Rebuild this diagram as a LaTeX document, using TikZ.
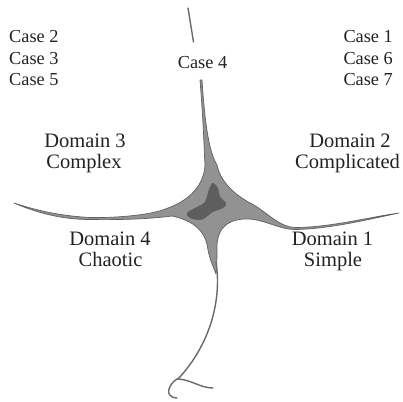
\documentclass[tikz,border=0pt]{standalone}
\usepackage{fontspec}
\setmainfont{Liberation Serif}
\definecolor{armgray}{HTML}{929292}
\definecolor{edgegray}{HTML}{606060}
\definecolor{blobgray}{HTML}{5E5E5E}
\definecolor{linegray}{HTML}{6A6A6A}
\definecolor{txtgray}{HTML}{222222}
\begin{document}
\begin{tikzpicture}[x=1pt,y=-1pt,
  casetxt/.style={font=\fontsize{18.3}{21.7}\selectfont, text=txtgray, inner sep=0pt},
  domtxt/.style={font=\fontsize{20.5}{21}\selectfont, text=txtgray, inner sep=0pt, anchor=base},
  thinline/.style={draw=linegray, line width=1.4, line cap=round},
  star/.style={fill=armgray, draw=edgegray, line width=0.7, line join=round}]
\useasboundingbox (0,0) rectangle (403,401);
\fill[white] (0,0) rectangle (403,401);
% central star
\path[star]
 (200,80) .. controls (204,130) and (204,150) .. (205,165)
 .. controls (204,185) and (190,200) .. (168,208)
 .. controls (150,216) and (110,218) .. (90,217.5)
 .. controls (60,216) and (35,210) .. (14,203)
 .. controls (35,212) and (60,219.5) .. (90,219.5)
 .. controls (120,220) and (150,219) .. (172,216)
 .. controls (195,221) and (206,232) .. (208,250)
 .. controls (210,260) and (213,266) .. (216,274)
 .. controls (217,264) and (217,256) .. (217,250)
 .. controls (216,228) and (228,218) .. (250,219)
 .. controls (268,221) and (280,229.5) .. (295,229.5)
 .. controls (330,229) and (370,219) .. (399,213)
 .. controls (370,217) and (330,227.5) .. (295,227.5)
 .. controls (278,227) and (265,210) .. (250,203)
 .. controls (232,193) and (220,180) .. (217,165)
 .. controls (209,152) and (205,125) .. (202,80) -- cycle;
\fill[blobgray] plot[smooth cycle, tension=0.7] coordinates {(213,183) (218,188) (220,197) (226,203) (223,208) (213,212) (205,218) (199,220) (190,218) (187,213) (197,207) (205,202) (208,192) (211,185)};
% thin lines
\draw[thinline] (188,8) -- (193.5,42);
\draw[thinline] (216,262) .. controls (222,300) and (210,345) .. (178,379);
\draw[thinline] (213,388) .. controls (200,388) and (190,379) .. (177,379) .. controls (169,384) and (163,397) .. (177,398);
% texts
\node[casetxt, anchor=base west] (c2) at (9,42.3) {Case 2};
\node[casetxt, anchor=base west] (c3) at (9,64.3) {Case 3};
\node[casetxt, anchor=base west] (c5) at (9,85.7) {Case 5};
\node[casetxt, anchor=base east] (c1) at (393,42.3) {Case 1};
\node[casetxt, anchor=base east] (c6) at (393,64.3) {Case 6};
\node[casetxt, anchor=base east] (c7) at (393,85.7) {Case 7};
\node[casetxt, anchor=base] (c4) at (202.5,68.5) {Case 4};
\node[domtxt] (d3a) at (85,147.3) {Domain 3};
\node[domtxt] (d3b) at (84,168.3) {Complex};
\node[domtxt] (d2a) at (350,147.3) {Domain 2};
\node[domtxt] (d2b) at (347.5,168.3) {Complicated};
\node[domtxt] (d4a) at (110,245) {Domain 4};
\node[domtxt] (d4b) at (110.5,266.7) {Chaotic};
\node[domtxt] (d1a) at (332.5,245) {Domain 1};
\node[domtxt] (d1b) at (333,266.7) {Simple};
\end{tikzpicture}
\end{document}
